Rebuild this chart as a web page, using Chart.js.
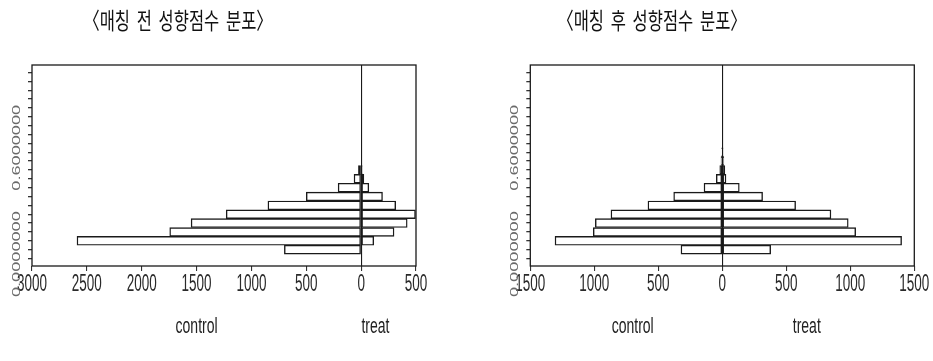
<!DOCTYPE html>
<html>
<head>
<meta charset="utf-8">
<script src="https://cdn.jsdelivr.net/npm/chart.js@4/dist/chart.umd.min.js"></script>
<style>
  html, body { margin: 0; padding: 0; background: #fff; width: 933px; height: 361px; overflow: hidden; }
  .panel { position: absolute; top: 0; height: 361px; }
  #panelBefore { left: 0; width: 466px; }
  #panelAfter { left: 466px; width: 467px; }
  .panel canvas { filter: blur(0.5px); }
  .title {
    position: absolute; top: 9px;
    transform: translateX(-50%) scaleY(1.4); transform-origin: 50% 50%;
    font-family: 'Noto Sans CJK KR', sans-serif; font-size: 16.5px; line-height: 20px;
    color: #111; white-space: nowrap; word-spacing: 3px;
  }
</style>
</head>
<body>
<div class="panel" id="panelBefore"><canvas id="chartBefore" width="466" height="361"></canvas></div>
<div class="panel" id="panelAfter"><canvas id="chartAfter" width="467" height="361"></canvas></div>
<div class="title" id="titleBefore" style="left:178px"></div>
<div class="title" id="titleAfter" style="left:652px"></div>
<script>
// Propensity-score bins (mid-points, bin width 0.05)
const scoreBins = [0.025, 0.075, 0.125, 0.175, 0.225, 0.275, 0.325, 0.375, 0.425, 0.475, 0.525, 0.575];

// Counts per bin before matching
const beforeControl = [700, 2590, 1745, 1550, 1230, 850, 500, 210, 65, 25];
const beforeTreat   = [5, 115, 300, 420, 495, 315, 195, 70, 25, 10];

// Counts per bin after matching
const afterControl = [323, 1307, 1008, 992, 870, 581, 380, 143, 47, 20, 10, 5];
const afterTreat   = [378, 1401, 1042, 984, 849, 573, 315, 133, 29, 20, 12, 6];

// Axis ticks
const yTickValues = [0, 0.05, 0.1, 0.15, 0.2, 0.25, 0.3, 0.35, 0.4, 0.45, 0.5,
                     0.55, 0.6, 0.65, 0.7, 0.75, 0.8, 0.85, 0.9, 0.95, 1.0];
const yLabelValues = [0, 0.6];
const beforeXTicks = [-3000, -2500, -2000, -1500, -1000, -500, 0, 500];
const afterXTicks  = [-1500, -1000, -500, 0, 500, 1000, 1500];

const sideLabels = ['control', 'treat'];
const titles = ['〈매칭 전 성향점수 분포〉', '〈매칭 후 성향점수 분포〉'];

document.getElementById('titleBefore').textContent = titles[0];
document.getElementById('titleAfter').textContent = titles[1];

const INK = '#1a1a1a';

function drawStretched(ctx, text, x, y, sx, sy, rot) {
  ctx.save();
  ctx.translate(x, y);
  if (rot) ctx.rotate(rot);
  ctx.scale(sx, sy);
  ctx.fillText(text, 0, 0);
  ctx.restore();
}

// Frame around the plot plus the tall, narrow axis lettering
const backToBackDecor = {
  id: 'backToBackDecor',
  afterDraw(chart, args, opts) {
    const { ctx, chartArea } = chart;
    const xs = chart.scales.x, ys = chart.scales.y;
    ctx.save();
    ctx.strokeStyle = INK;
    ctx.lineWidth = 1.3;
    ctx.strokeRect(chartArea.left, chartArea.top, chartArea.right - chartArea.left, chartArea.bottom - chartArea.top);

    ctx.textAlign = 'center';
    ctx.textBaseline = 'middle';

    // x tick labels (absolute counts on both sides)
    ctx.fillStyle = '#2a2a2a';
    ctx.font = '13.5px "Liberation Sans", Arial, sans-serif';
    xs.ticks.forEach(t => {
      drawStretched(ctx, String(Math.abs(t.value)), xs.getPixelForValue(t.value),
                    chartArea.bottom + 18, 1, 1.75, 0);
    });

    // y labels, rotated
    ctx.fillStyle = '#6a6a6a';
    ctx.font = '11px "Liberation Sans", Arial, sans-serif';
    yLabelValues.forEach(v => {
      drawStretched(ctx, v.toFixed(7), chartArea.left - 15, ys.getPixelForValue(v),
                    1.65, 1, -Math.PI / 2);
    });

    // group labels under each side
    ctx.fillStyle = '#222';
    ctx.font = '14px "Liberation Sans", Arial, sans-serif';
    sideLabels.forEach((s, i) => {
      drawStretched(ctx, s, xs.getPixelForValue(opts.sideAnchors[i]), opts.sideLabelY, 1, 1.55, 0);
    });
    ctx.restore();
  }
};

function makeChart(canvasId, control, treat, xTicks, plotLeft, plotRight, sideAnchors) {
  const n = control.length;
  const canvas = document.getElementById(canvasId);
  const W = canvas.width;
  const plotTop = 65, plotBottom = 266, xTickLen = 5, yTickLen = 4;
  const barStyle = {
    backgroundColor: 'rgba(0,0,0,0)', borderColor: INK,
    borderWidth: 0.8, inflateAmount: 0.3, borderSkipped: false
  };
  return new Chart(canvas, {
    type: 'bar',
    data: {
      datasets: [
        Object.assign({
          label: sideLabels[0],
          data: scoreBins.slice(0, n).map((y, i) => ({ y: y, x: -control[i] }))
        }, barStyle),
        Object.assign({
          label: sideLabels[1],
          data: scoreBins.slice(0, n).map((y, i) => ({ y: y, x: treat[i] }))
        }, barStyle)
      ]
    },
    options: {
      indexAxis: 'y',
      responsive: false,
      animation: false,
      grouped: false,
      barPercentage: 1,
      categoryPercentage: 1,
      layout: { padding: { top: plotTop, left: 0, right: W - plotRight, bottom: 361 - plotBottom - xTickLen } },
      plugins: {
        legend: { display: false },
        tooltip: { enabled: false },
        title: { display: false },
        backToBackDecor: { sideAnchors: sideAnchors, sideLabelY: 327 }
      },
      scales: {
        x: {
          type: 'linear',
          min: xTicks[0], max: xTicks[xTicks.length - 1],
          afterBuildTicks: s => { s.ticks = xTicks.map(v => ({ value: v })); },
          afterFit: s => { s.height = xTickLen; },
          ticks: { display: false },
          border: { display: false },
          grid: {
            drawOnChartArea: true,
            color: c => (c.tick && c.tick.value === 0) ? INK : 'rgba(0,0,0,0)',
            lineWidth: 1.1,
            tickColor: '#333',
            tickLength: xTickLen
          }
        },
        y: {
          type: 'linear',
          min: -0.04, max: 1.04,
          afterBuildTicks: s => { s.ticks = yTickValues.map(v => ({ value: v })); },
          afterFit: s => { s.width = plotLeft; },
          ticks: { display: false },
          border: { display: false },
          grid: {
            drawOnChartArea: false,
            tickColor: '#333',
            tickLength: yTickLen,
            lineWidth: 1.3
          }
        }
      }
    },
    plugins: [backToBackDecor]
  });
}

makeChart('chartBefore', beforeControl, beforeTreat, beforeXTicks, 32, 416, [-1500, 130]);
makeChart('chartAfter', afterControl, afterTreat, afterXTicks, 64.3, 448.3, [-700, 660]);
</script>
</body>
</html>
